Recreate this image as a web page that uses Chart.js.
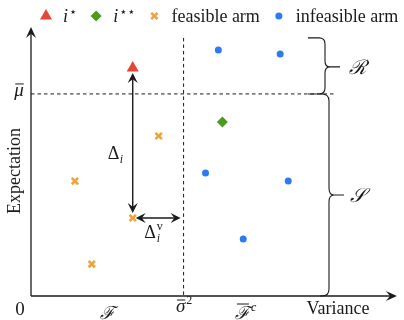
<!DOCTYPE html>
<html>
<head>
<meta charset="utf-8">
<script src="https://cdn.jsdelivr.net/npm/chart.js@4/dist/chart.umd.min.js"></script>
<style>
  html, body { margin: 0; padding: 0; background: #fff; }
  #wrap { width: 404px; height: 320px; position: relative; }
</style>
</head>
<body>
<div id="wrap"><canvas id="c"></canvas></div>
<script>
// Series names shown in the legend
const seriesNames = ['i⋆', 'i⋆⋆', 'feasible arm', 'infeasible arm'];

// Arm positions: variance (x) and expectation (y)
const bestVar = [2.78];
const bestExp = [8.51];
const secondVar = [5.23];
const secondExp = [6.49];
const feasibleVar = [3.49, 1.20, 2.78, 1.66];
const feasibleExp = [5.97, 4.29, 2.91, 1.19];
const infeasibleVar = [5.12, 6.81, 4.77, 7.03, 5.80];
const infeasibleExp = [9.18, 9.03, 4.59, 4.29, 2.13];

// Thresholds: variance bound and expectation level
const varianceBound = 4.17;
const expectationLevel = 7.54;
const regionTop = 9.63;      // upper end of the dashed variance line / R brace
const levelLineEnd = 8.28;   // right end of the dashed expectation line
const feasibleLabelAt = 2.08;
const infeasibleLabelAt = 5.86;
const gapArm = 2;            // feasible arm used for the gap arrows

const axisLabels = { x: 'Variance', y: 'Expectation' };

const pts = (xs, ys) => xs.map((v, i) => ({ x: v, y: ys[i] }));
const SERIF = '"Liberation Serif", "DejaVu Serif", serif';
const INK = '#1a1a1a';

const colors = {
  best: '#e4463a',
  second: '#4c9a1e',
  feasible: '#f0a23c',
  infeasible: '#2c7bf2'
};

function arrowHead(ctx, x, y, ang, len, hw) {
  ctx.save();
  ctx.translate(x, y);
  ctx.rotate(ang);
  ctx.beginPath();
  ctx.moveTo(0, 0);
  ctx.lineTo(-len, -hw);
  ctx.lineTo(-len * 0.62, 0);
  ctx.lineTo(-len, hw);
  ctx.closePath();
  ctx.fill();
  ctx.restore();
}

function arrowLine(ctx, x1, y1, x2, y2, both, len, hw) {
  const ang = Math.atan2(y2 - y1, x2 - x1);
  const ux = Math.cos(ang), uy = Math.sin(ang);
  ctx.beginPath();
  ctx.moveTo(both ? x1 + ux * len * 0.6 : x1, both ? y1 + uy * len * 0.6 : y1);
  ctx.lineTo(x2 - ux * len * 0.6, y2 - uy * len * 0.6);
  ctx.stroke();
  arrowHead(ctx, x2, y2, ang, len, hw);
  if (both) arrowHead(ctx, x1, y1, ang + Math.PI, len, hw);
}

// Curly brace opening to the left, tip pointing right
function brace(ctx, xEnd, xv, xTip, y1, y2, ym, r, stub) {
  ctx.beginPath();
  ctx.moveTo(xEnd, y1);
  ctx.lineTo(xv - r, y1);
  ctx.quadraticCurveTo(xv, y1, xv, y1 + r);
  ctx.lineTo(xv, ym - r);
  ctx.quadraticCurveTo(xv, ym, xTip, ym);
  ctx.quadraticCurveTo(xv, ym, xv, ym + r);
  ctx.lineTo(xv, y2 - r);
  ctx.quadraticCurveTo(xv, y2, xv - r, y2);
  ctx.lineTo(xEnd, y2);
  ctx.moveTo(xTip, ym);
  ctx.lineTo(xTip + stub, ym);
  ctx.stroke();
}

function drawMarker(ctx, style, x, y) {
  ctx.save();
  if (style === 'triangle') {
    const r = 7;
    ctx.fillStyle = colors.best;
    ctx.beginPath();
    ctx.moveTo(x, y - r);
    ctx.lineTo(x + r * Math.sin(Math.PI * 2 / 3), y - r * Math.cos(Math.PI * 2 / 3));
    ctx.lineTo(x - r * Math.sin(Math.PI * 2 / 3), y - r * Math.cos(Math.PI * 2 / 3));
    ctx.closePath();
    ctx.fill();
  } else if (style === 'rectRot') {
    const r = 5.5;
    ctx.fillStyle = colors.second;
    ctx.beginPath();
    ctx.moveTo(x, y - r); ctx.lineTo(x + r, y); ctx.lineTo(x, y + r); ctx.lineTo(x - r, y);
    ctx.closePath();
    ctx.fill();
  } else if (style === 'crossRot') {
    const d = 4.5 * Math.SQRT1_2;
    ctx.strokeStyle = colors.feasible;
    ctx.lineWidth = 2.6;
    ctx.beginPath();
    ctx.moveTo(x - d, y - d); ctx.lineTo(x + d, y + d);
    ctx.moveTo(x + d, y - d); ctx.lineTo(x - d, y + d);
    ctx.stroke();
  } else {
    ctx.fillStyle = colors.infeasible;
    ctx.beginPath();
    ctx.arc(x, y, 3.5, 0, Math.PI * 2);
    ctx.fill();
  }
  ctx.restore();
}

// Text with an optional bar, superscript and subscript
function mathText(ctx, base, x, y, o) {
  o = o || {};
  const size = o.size || 17;
  ctx.save();
  ctx.fillStyle = INK;
  ctx.textBaseline = 'alphabetic';
  ctx.textAlign = 'left';
  ctx.font = (o.italic ? 'italic ' : '') + size + 'px ' + (o.family || SERIF);
  const w = ctx.measureText(base).width;
  const x0 = x - (o.center ? w / 2 : 0);
  ctx.fillText(base, x0, y);
  if (o.bar) {
    ctx.strokeStyle = INK;
    ctx.lineWidth = 1;
    ctx.beginPath();
    ctx.moveTo(x0 + o.bar[0], y - o.bar[2]);
    ctx.lineTo(x0 + w + o.bar[1], y - o.bar[2]);
    ctx.stroke();
  }
  if (o.sup) {
    ctx.font = (o.supItalic ? 'italic ' : '') + Math.round(size * 0.65) + 'px ' + SERIF;
    ctx.fillText(o.sup, x0 + w + 1, y - size * 0.42);
  }
  if (o.sub) {
    ctx.font = 'italic ' + Math.round(size * 0.65) + 'px ' + SERIF;
    ctx.fillText(o.sub, x0 + w + (o.subShift || 0.5), y + size * 0.22);
  }
  ctx.restore();
}

const markerStyles = ['triangle', 'rectRot', 'crossRot', 'circle'];

const diagram = {
  id: 'diagram',
  beforeDatasetsDraw(chart) {
    const { ctx, chartArea: a, scales: { x, y } } = chart;
    ctx.save();
    ctx.strokeStyle = INK;
    ctx.fillStyle = INK;

    // dashed threshold lines
    ctx.lineWidth = 1;
    ctx.setLineDash([3.5, 3]);
    const vx = x.getPixelForValue(varianceBound);
    ctx.beginPath();
    ctx.moveTo(vx, y.getPixelForValue(regionTop));
    ctx.lineTo(vx, y.getPixelForValue(0));
    const my = y.getPixelForValue(expectationLevel);
    ctx.moveTo(x.getPixelForValue(0), my);
    ctx.lineTo(x.getPixelForValue(levelLineEnd), my);
    ctx.stroke();
    ctx.setLineDash([]);

    // axes with arrow heads
    ctx.lineWidth = 1.3;
    const ox = x.getPixelForValue(0), oy = y.getPixelForValue(0);
    arrowLine(ctx, ox, oy, a.right, oy, false, 11, 5);
    arrowLine(ctx, ox, oy, ox, a.top - 1, false, 11, 5);

    // braces for the two expectation regions
    ctx.lineWidth = 1.1;
    const rTop = y.getPixelForValue(regionTop);
    brace(ctx, 308, 325, 330, rTop, my, (rTop + my) / 2 + 1, 6, 10);
    const sTip = 195;
    brace(ctx, 320, 329, 334, my, oy, sTip, 7, 10);

    // gap arrows
    ctx.lineWidth = 1.4;
    const bx = x.getPixelForValue(bestVar[0]);
    const by = y.getPixelForValue(bestExp[0]);
    const fx = x.getPixelForValue(feasibleVar[gapArm]);
    const fy = y.getPixelForValue(feasibleExp[gapArm]);
    arrowLine(ctx, bx, by + 5, bx, fy - 5, true, 10, 5);
    arrowLine(ctx, fx + 3, fy, vx - 3, fy, true, 10, 5);
    ctx.restore();
  },
  afterDraw(chart) {
    const { ctx, scales: { x, y } } = chart;
    const vx = x.getPixelForValue(varianceBound);
    const my = y.getPixelForValue(expectationLevel);
    const ox = x.getPixelForValue(0), oy = y.getPixelForValue(0);
    const bx = x.getPixelForValue(bestVar[0]);
    const by = y.getPixelForValue(bestExp[0]);
    const fx = x.getPixelForValue(feasibleVar[gapArm]);
    const fy = y.getPixelForValue(feasibleExp[gapArm]);

    // gap labels
    mathText(ctx, 'Δ', bx - 25, (by + fy) / 2 + 16, { size: 18, sub: 'i' });
    mathText(ctx, 'Δ', (fx + vx) / 2 - 14, fy + 20, { size: 18, sub: 'i', sup: 'v', subShift: 1 });

    // axis and tick labels
    mathText(ctx, '0', ox - 11, oy + 19, { size: 19, center: true });
    mathText(ctx, 'ℱ', x.getPixelForValue(feasibleLabelAt), oy + 23, { size: 18, center: true, italic: true, family: '"DejaVu Serif", serif' });
    mathText(ctx, 'σ', vx - 3, oy + 16, { size: 19, center: true, italic: true, bar: [1, 0, 12], sup: '2' });
    mathText(ctx, 'ℱ', x.getPixelForValue(infeasibleLabelAt) - 3, oy + 23, { size: 18, center: true, italic: true, family: '"DejaVu Serif", serif', bar: [2, -1, 15], sup: 'c', supItalic: true });
    mathText(ctx, 'μ', ox - 12, my + 2, { size: 19, center: true, italic: true, bar: [1, 0, 12] });
    mathText(ctx, 'ℛ', 357, (y.getPixelForValue(regionTop) + my) / 2 + 8, { size: 20, center: true, italic: true, family: '"DejaVu Serif", serif' });
    mathText(ctx, '𝒮', 357, 202, { size: 20, center: true, italic: true, family: '"DejaVu Serif", "DejaVu Sans", serif' });

    ctx.save();
    ctx.fillStyle = INK;
    ctx.font = '18px ' + SERIF;
    ctx.textAlign = 'center';
    ctx.textBaseline = 'middle';
    ctx.fillText(axisLabels.x, 338, oy + 13);
    ctx.translate(ox - 16, 171);
    ctx.rotate(-Math.PI / 2);
    ctx.fillText(axisLabels.y, 0, 0);
    ctx.restore();

    // legend
    let cx = 46;
    const ly = 16;
    seriesNames.forEach((name, i) => {
      drawMarker(ctx, markerStyles[i], cx, ly);
      const tx = cx + 17;
      let end;
      ctx.save();
      ctx.fillStyle = INK;
      ctx.textBaseline = 'alphabetic';
      const stars = name.slice(1);
      if (/^⋆+$/.test(stars)) {
        ctx.font = 'italic 18px ' + SERIF;
        ctx.fillText(name[0], tx, ly + 6);
        const w = ctx.measureText(name[0]).width;
        ctx.font = '13px "DejaVu Sans", sans-serif';
        ctx.fillText(stars, tx + w + 1, ly);
        end = tx + w + 1 + ctx.measureText(stars).width;
      } else {
        ctx.font = '18px ' + SERIF;
        ctx.fillText(name, tx, ly + 6);
        end = tx + ctx.measureText(name).width;
      }
      ctx.restore();
      cx = end + 19;
    });
  }
};

new Chart(document.getElementById('c'), {
  type: 'scatter',
  data: {
    datasets: [
      { label: seriesNames[0], data: pts(bestVar, bestExp), pointStyle: 'triangle', radius: 7,
        backgroundColor: colors.best, borderColor: colors.best, borderWidth: 0 },
      { label: seriesNames[1], data: pts(secondVar, secondExp), pointStyle: 'rectRot', radius: 5.5,
        backgroundColor: colors.second, borderColor: colors.second, borderWidth: 0 },
      { label: seriesNames[2], data: pts(feasibleVar, feasibleExp), pointStyle: 'crossRot', radius: 4.5,
        backgroundColor: colors.feasible, borderColor: colors.feasible, borderWidth: 2.6 },
      { label: seriesNames[3], data: pts(infeasibleVar, infeasibleExp), pointStyle: 'circle', radius: 3.5,
        backgroundColor: colors.infeasible, borderColor: colors.infeasible, borderWidth: 0 }
    ]
  },
  options: {
    responsive: true,
    maintainAspectRatio: false,
    animation: false,
    layout: { padding: { left: 31, right: 6, top: 28, bottom: 24 } },
    plugins: { legend: { display: false }, tooltip: { enabled: false } },
    scales: {
      x: { type: 'linear', min: 0, max: 10, display: false },
      y: { type: 'linear', min: 0, max: 10, display: false }
    }
  },
  plugins: [diagram]
});
</script>
</body>
</html>
